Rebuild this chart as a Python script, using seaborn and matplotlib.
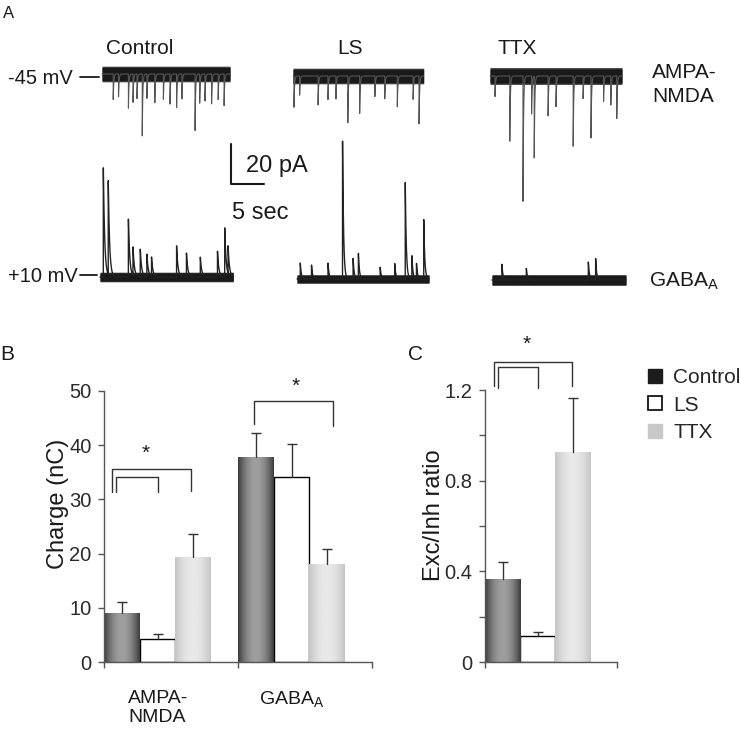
import numpy as np
import pandas as pd
import matplotlib
matplotlib.use("Agg")
import matplotlib.pyplot as plt
from matplotlib.lines import Line2D
import seaborn as sns

# ---- data ----
CONDITIONS = ["Control", "LS", "TTX"]
RECEPTORS = ["AMPA-\nNMDA", "GABA$_\\mathregular{A}$"]

charge_ampa = [9.1, 4.2, 19.3]
charge_ampa_err = [1.9, 1.0, 4.3]
charge_gaba = [37.8, 34.1, 18.0]
charge_gaba_err = [4.5, 6.2, 2.8]

ratio = [0.365, 0.116, 0.925]
ratio_err = [0.075, 0.016, 0.241]

# example traces: event times (s) and amplitudes (pA)
ctrl_exc_t = [1.7, 2.5, 4.0, 4.7, 5.3, 6.1, 6.8, 8.0, 9.3, 10.3, 11.3, 12.1, 14.1, 14.8, 15.6, 16.6, 17.6, 18.5]
ctrl_exc_a = [13, 12, 18, 14.7, 13, 31, 13, 14.7, 13, 16, 17, 13, 29, 14.7, 14, 16, 13, 16]
ls_exc_t = [0.15, 1.0, 3.8, 5.3, 6.5, 8.3, 10.1, 12.4, 13.9, 15.8, 18.2, 19.1]
ls_exc_a = [16, 10, 15, 12, 12, 25, 19, 11, 12, 16.5, 12, 24]
ttx_exc_t = [0.76, 3.0, 5.0, 6.3, 6.7, 8.8, 10.0, 12.6, 14.1, 15.3, 17.2, 18.3, 19.2]
ttx_exc_a = [10.3, 33, 64, 19.5, 42, 20.7, 16, 37, 12, 33, 13.7, 15.7, 23]

ctrl_inh_t = [0.5, 1.25, 4.3, 5.0, 6.1, 7.1, 7.8, 11.6, 13.1, 15.2, 17.8, 18.9, 19.4]
ctrl_inh_a = [56, 47.5, 29.5, 14.5, 14, 11.7, 10, 16, 12, 10, 13, 24.5, 14]
ls_inh_t = [0.5, 2.2, 4.7, 6.9, 8.5, 9.3, 12.6, 14.8, 16.4, 17.4, 18.1, 19.2]
ls_inh_a = [8, 7, 8, 70, 10.5, 13, 6, 8, 50, 12, 8, 31]
ttx_inh_t = [1.5, 5.2, 14.6, 15.7]
ttx_inh_a = [8, 6, 9, 11]

PALETTE = {"Control": "#6e6e6e", "LS": "white", "TTX": "#d6d6d6"}
INK = "#1a1a1a"
AXC = "#555555"

sns.set_theme(style="ticks")
plt.rcParams["font.family"] = ["Liberation Sans", "DejaVu Sans"]

W, H = 741, 734
fig = plt.figure(figsize=(W / 100, H / 100), dpi=100)

# ---- panel A: drawn in pixel coordinates ----
ax_a = fig.add_axes([0, 0, 1, 1])
ax_a.set_xlim(0, W)
ax_a.set_ylim(H, 0)
ax_a.axis("off")

PX_PER_SEC = 6.6
PX_PER_PA = 2.0


def draw_trace(x0, y0, length, times, amps, sign, noise, tau, line_color, lw):
    t = np.linspace(0, length, 3000)
    y = np.zeros_like(t)
    for ti, ai in zip(times, amps):
        m = t >= ti
        y[m] += ai * np.exp(-(t[m] - ti) / tau)
    xs = x0 + t * PX_PER_SEC
    ys = y0 - sign * y * PX_PER_PA
    ax_a.plot(xs, ys, color=line_color, lw=lw)
    # soft edge of the noise, then the dense core on top
    ax_a.fill_between(xs, y0 - noise * 1.2, y0 + noise * 1.2, color="#3c3c3c", lw=0)
    ax_a.fill_between(xs, y0 - noise, y0 + noise, color=INK, lw=0)


draw_trace(102, 74, 19.4, ctrl_exc_t, ctrl_exc_a, -1, 6.5, 0.08, "#555555", 0.8)
draw_trace(293, 76, 19.8, ls_exc_t, ls_exc_a, -1, 6.5, 0.08, "#555555", 0.8)
draw_trace(490, 76, 20.0, ttx_exc_t, ttx_exc_a, -1, 7, 0.08, "#555555", 0.8)
draw_trace(100, 277, 20.2, ctrl_inh_t, ctrl_inh_a, 1, 4, 0.2, "#222222", 1.0)
draw_trace(297, 279, 20.0, ls_inh_t, ls_inh_a, 1, 3.6, 0.15, "#222222", 1.0)
draw_trace(492, 280, 20.3, ttx_inh_t, ttx_inh_a, 1, 4.5, 0.15, "#222222", 1.0)

ax_a.text(3, 14, "A", fontsize=12, va="center", ha="left", color=INK)
for name, xc in zip(CONDITIONS, [140, 350, 517]):
    ax_a.text(xc, 49, name, fontsize=15, ha="center", va="center", color=INK)
ax_a.text(73, 79, "-45 mV", fontsize=14.5, ha="right", va="center", color=INK)
ax_a.plot([80, 99], [77, 77], color=INK, lw=1.3)
ax_a.text(78, 276, "+10 mV", fontsize=14.5, ha="right", va="center", color=INK)
ax_a.plot([80, 97], [275, 275], color=INK, lw=1.3)
ax_a.text(652, 72, "AMPA-", fontsize=15, ha="left", va="center", color=INK)
ax_a.text(652, 96, "NMDA", fontsize=15, ha="left", va="center", color=INK)
ax_a.text(649, 281, "GABA$_\\mathregular{A}$", fontsize=15, ha="left", va="center", color=INK)
# scale bar
ax_a.plot([231, 231, 264], [144, 184, 184], color=INK, lw=1.5)
ax_a.text(246, 166, "20 pA", fontsize=17, ha="left", va="center", color=INK)
ax_a.text(232, 213, "5 sec", fontsize=17, ha="left", va="center", color=INK)
ax_a.text(0, 355, "B", fontsize=15, ha="left", va="center", color=INK)
ax_a.text(408, 355, "C", fontsize=15, ha="left", va="center", color=INK)


def fig_rect(left, top, right, bottom):
    return [left / W, 1 - bottom / H, (right - left) / W, (bottom - top) / H]


def shade_bar(ax, patch, edge, center):
    x, y = patch.get_x(), patch.get_y()
    w, h = patch.get_width(), patch.get_height()
    u = np.linspace(-1, 1, 101)
    shade = edge + (center - edge) * (1 - np.abs(u) ** 2)
    img = np.tile(shade, (2, 1))
    im = ax.imshow(img, cmap="gray", vmin=0, vmax=1, extent=[x, x + w, y, y + h],
                   aspect="auto", interpolation="bilinear", zorder=1.05)
    im.set_clip_path(patch)


def style_bars(ax, errs):
    for cond, cont in zip(CONDITIONS, ax.containers):
        for patch, err in zip(cont.patches, errs[cond]):
            if cond == "LS":
                patch.set_edgecolor("black")
                patch.set_linewidth(1.0)
            else:
                patch.set_edgecolor("none")
            if cond == "Control":
                shade_bar(ax, patch, 0.23, 0.62)
            elif cond == "TTX":
                shade_bar(ax, patch, 0.77, 0.91)
            xc = patch.get_x() + patch.get_width() / 2
            top = patch.get_height()
            ax.plot([xc, xc], [top, top + err], color="#333333", lw=1.0, zorder=3)
            ax.plot([xc], [top + err], marker="_", ms=6.5, mew=1.0, color="#333333", zorder=3)


def style_axes(ax):
    sns.despine(ax=ax)
    for s in ["left", "bottom"]:
        ax.spines[s].set_color(AXC)
        ax.spines[s].set_linewidth(1.0)
    ax.tick_params(axis="both", which="major", color=AXC, length=4, width=1.0,
                   labelsize=14.5, labelcolor="#2a2a2a", pad=5)


def bracket(ax, x0, x1, top, bot0, bot1):
    ax.plot([x0, x0, x1, x1], [bot0, top, top, bot1], color="#333333", lw=1.0, clip_on=False)


# ---- panel B ----
ax_b = fig.add_axes(fig_rect(104, 391, 372, 662))
df_b = pd.DataFrame({
    "receptor": np.repeat(RECEPTORS, 3),
    "condition": CONDITIONS * 2,
    "charge": charge_ampa + charge_gaba,
})
sns.barplot(data=df_b, x="receptor", y="charge", hue="condition", order=RECEPTORS,
            hue_order=CONDITIONS, palette=PALETTE, errorbar=None, width=0.8,
            saturation=1, legend=False, ax=ax_b)
errs_b = {c: [a, g] for c, a, g in zip(CONDITIONS, charge_ampa_err, charge_gaba_err)}
style_bars(ax_b, errs_b)
style_axes(ax_b)
ax_b.set_xlim(-0.4, 1.6)
ax_b.set_ylim(0, 50)
ax_b.set_yticks([0, 10, 20, 30, 40, 50])
ax_b.set_xticks([-0.4, 0.6, 1.6])
ax_b.set_xticklabels([])
ax_b.set_xticks([0, 1], minor=True)
ax_b.set_xticklabels(RECEPTORS, minor=True)
ax_b.tick_params(axis="x", which="minor", length=0, pad=20, labelsize=14, labelcolor=INK)
ax_b.set_xlabel("")
ax_b.set_ylabel("Charge (nC)", fontsize=17, color=INK)
ax_b.yaxis.set_label_coords(-0.13, 0.585)

bracket(ax_b, -0.34, 0.25, 35.7, 31.3, 31.5)
bracket(ax_b, -0.31, 0.0, 34.1, 31.3, 31.3)
ax_b.text(-0.09, 38.5, "*", fontsize=15, ha="center", va="center", color=INK)
bracket(ax_b, 0.72, 1.31, 48.2, 44.0, 43.5)
ax_b.text(1.03, 50.8, "*", fontsize=15, ha="center", va="center", color=INK, clip_on=False)

# ---- panel C ----
ax_c = fig.add_axes(fig_rect(485, 390, 617, 662))
df_c = pd.DataFrame({"group": ["all"] * 3, "condition": CONDITIONS, "ratio": ratio})
sns.barplot(data=df_c, x="group", y="ratio", hue="condition", hue_order=CONDITIONS,
            palette=PALETTE, errorbar=None, width=0.8, saturation=1, legend=False, ax=ax_c)
errs_c = {c: [e] for c, e in zip(CONDITIONS, ratio_err)}
style_bars(ax_c, errs_c)
style_axes(ax_c)
ax_c.set_xlim(-0.4, 0.6)
ax_c.set_ylim(0, 1.2)
ax_c.set_yticks([0, 0.2, 0.4, 0.6, 0.8, 1.0, 1.2])
ax_c.set_yticklabels(["0", "", "0.4", "", "0.8", "", "1.2"])
ax_c.set_xticks([-0.4, 0.6])
ax_c.set_xticklabels([])
ax_c.set_xlabel("")
ax_c.set_ylabel("Exc/Inh ratio", fontsize=17, color=INK)
ax_c.yaxis.set_label_coords(-0.30, 0.54)

bracket(ax_c, -0.332, 0.257, 1.322, 1.217, 1.217)
bracket(ax_c, -0.304, 0.004, 1.303, 1.208, 1.208)
ax_c.text(-0.084, 1.40, "*", fontsize=15, ha="center", va="center", color=INK, clip_on=False)

handles = [
    Line2D([0], [0], marker="s", ls="", ms=10, mfc="#1c1c1c", mec="#1c1c1c"),
    Line2D([0], [0], marker="s", ls="", ms=9.5, mfc="white", mec="black", mew=1.2),
    Line2D([0], [0], marker="s", ls="", ms=10, mfc="#c8c8c8", mec="#c8c8c8"),
]
ax_c.legend(handles, CONDITIONS, loc="upper left", bbox_to_anchor=(648 / W, 1 - 368 / H),
            bbox_transform=fig.transFigure, frameon=False, fontsize=15, handlelength=0.7,
            handletextpad=0.5, labelspacing=0.42, borderpad=0, borderaxespad=0)

fig.savefig("out.png", dpi=100)
